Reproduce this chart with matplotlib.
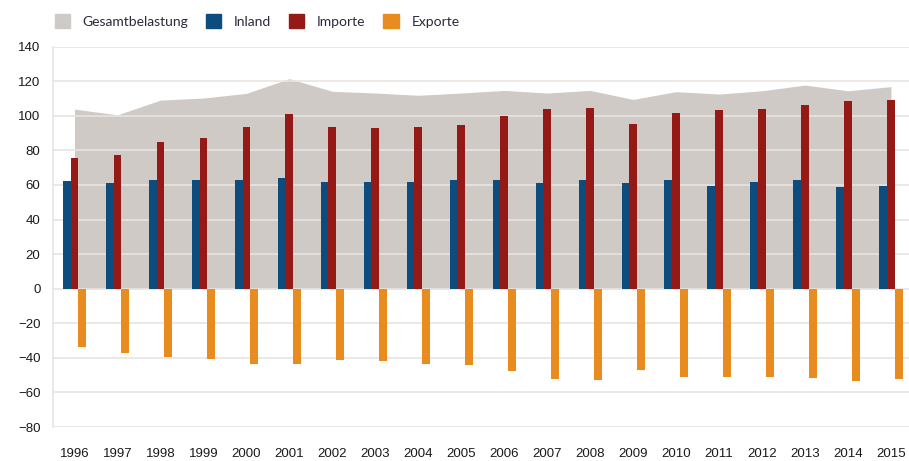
import numpy as np
import matplotlib
matplotlib.use('Agg')
import matplotlib.pyplot as plt
from matplotlib.patches import Patch

# data
years = ['1996', '1997', '1998', '1999', '2000', '2001', '2002', '2003', '2004', '2005',
         '2006', '2007', '2008', '2009', '2010', '2011', '2012', '2013', '2014', '2015']
gesamt = [103.9, 100.6, 109.1, 110.3, 113.0, 121.5, 114.2, 113.2, 111.9, 113.2,
          114.7, 113.2, 114.7, 109.5, 114.0, 112.6, 114.5, 117.8, 114.5, 116.9]
inland = [62.4, 61.1, 63.0, 63.0, 62.6, 64.2, 61.8, 61.8, 61.8, 62.6,
          62.6, 60.9, 63.0, 60.9, 62.6, 59.7, 61.7, 62.6, 58.8, 59.3]
importe = [75.7, 77.1, 84.8, 87.3, 93.7, 100.9, 93.5, 92.8, 93.5, 94.9,
           99.7, 104.1, 104.3, 95.1, 101.8, 103.2, 103.7, 106.4, 108.8, 109.1]
exporte = [-34.0, -37.3, -39.3, -40.4, -43.5, -43.5, -41.4, -41.6, -43.5, -44.4,
           -47.8, -52.2, -53.0, -46.8, -51.1, -50.9, -51.3, -51.7, -53.4, -52.0]

c_gesamt = '#cfcac6'
c_inland = '#0f4c7e'
c_import = '#951a15'
c_export = '#e88c1f'
c_grid = '#e8e4e2'

x = np.arange(len(years))
w = 0.18

fig = plt.figure(figsize=(9.09, 4.61), dpi=100)
ax = fig.add_axes([53/909, 1 - 427/461, 1 - 53/909, (427 - 46.7)/461])

ax.fill_between(x, 0, gesamt, color=c_gesamt, lw=0, zorder=1)
ax.bar(x - w, inland, width=w, color=c_inland, zorder=3)
ax.bar(x, importe, width=w, color=c_import, zorder=3)
ax.bar(x + w, exporte, width=w, color=c_export, zorder=3)

ax.set_ylim(-80, 140)
ax.set_xlim(-0.5, 19.42)
ax.set_yticks(range(-80, 141, 20))
ax.set_yticklabels(['\u221280', '\u221260', '\u221240', '\u221220', '0', '20', '40',
                    '60', '80', '100', '120', '140'])
ax.set_xticks(x)
ax.set_xticklabels(years)
ax.yaxis.grid(True, color=c_grid, lw=1.2)
for l in ax.get_ygridlines():
    l.set_zorder(2)
for s in ['top', 'right', 'bottom']:
    ax.spines[s].set_visible(False)
ax.spines['left'].set_color(c_grid)
ax.spines['left'].set_linewidth(1.2)
ax.tick_params(axis='both', length=0, labelsize=9.5, colors='#1a1a1a')
ax.tick_params(axis='y', pad=9)
ax.tick_params(axis='x', pad=15)
for t in ax.get_xticklabels() + ax.get_yticklabels():
    t.set_family('Liberation Sans')

handles = [Patch(color=c_gesamt), Patch(color=c_inland), Patch(color=c_import), Patch(color=c_export)]
labels = ['Gesamtbelastung', 'Inland', 'Importe', 'Exporte']
fig.legend(handles, labels, loc='center left', bbox_to_anchor=(42/909, 1 - 21/461), ncol=4,
           frameon=False, handlelength=1.1, handleheight=1.1, handletextpad=0.9,
           columnspacing=1.3, prop={'family': 'Lato', 'size': 10}, labelcolor='#2a2a3a')

fig.savefig('out.png', dpi=100)
